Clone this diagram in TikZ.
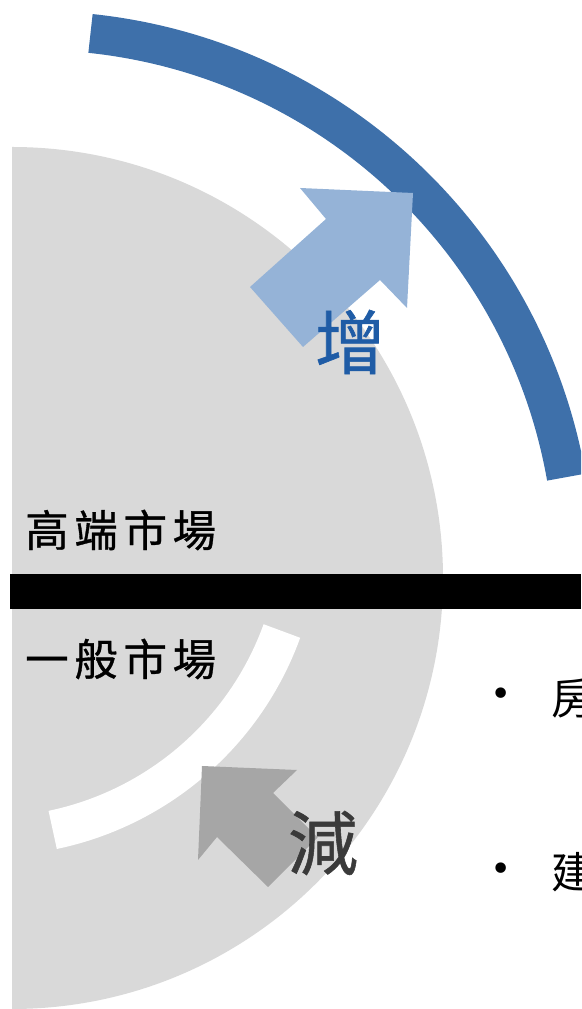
\documentclass[tikz,border=0pt]{standalone}
\usepackage{fontspec}
\newfontfamily\cjk{Noto Sans CJK TC}
\newfontfamily\cjksp[LetterSpace=13,FakeBold=0.8]{Noto Sans CJK TC}
\newfontfamily\cjkb[FakeBold=0.8]{Noto Sans CJK TC}
\newfontfamily\dejavu{DejaVu Sans}
\definecolor{bggray}{HTML}{D9D9D9}
\definecolor{arcblue}{HTML}{3E70AA}
\definecolor{lightblue}{HTML}{95B3D7}
\definecolor{arrowgray}{HTML}{A6A6A6}
\definecolor{incblue}{HTML}{1F5CA6}
\definecolor{decgray}{HTML}{3A3A3A}
\tikzset{
  lbl/.style={inner sep=0pt, font=\cjksp\fontsize{43.5}{43.5}\selectfont, text=black},
  big/.style={inner sep=0pt, font=\cjkb\fontsize{70}{70}\selectfont},
  item/.style={inner sep=0pt, font=\cjk\fontsize{43}{43}\selectfont, text=black, anchor=west},
  bul/.style={inner sep=0pt, font=\dejavu\fontsize{36}{36}\selectfont, text=black},
}
\begin{document}
\begin{tikzpicture}[x=1pt,y=1pt]
\useasboundingbox (0,0) rectangle (581,1009);
\clip (0,0) rectangle (581,1009);
% gray half disc
\fill[bggray] (12,862) arc[start angle=90,end angle=-90,radius=431pt] -- cycle;
% blue arc
\coordinate (bc) at (34,438);
\draw[arcblue, line width=39pt] ([shift={(84:540.5pt)}]bc) arc[start angle=84,end angle=10,radius=540.5pt];
% light blue arrow
\fill[lightblue] (413,816) -- (300,821) -- (326,790) -- (250,722) -- (303,662) -- (380,729) -- (407,701) -- cycle;
% black bar
\fill[black] (10,400) rectangle (581,435);
% white arc
\coordinate (wc) at (-11,484);
\draw[white, line width=39pt] ([shift={(-19.9:311.5pt)}]wc) arc[start angle=-19.9,end angle=-78.2,radius=311.5pt];
% gray arrow
\fill[arrowgray] (202,243) -- (297,239) -- (273,216) -- (317.5,171.5) -- (268,122) -- (217,172) -- (198,149) -- cycle;
% labels
\node[lbl, anchor=west] (high) at (25,479) {高端市場};
\node[lbl, anchor=west] (gen) at (25,350) {一般市場};
\node[big, text=incblue] (inc) at (350,667) {增};
\node[big, text=decgray] (dec) at (323,166) {減};
\node[bul] (b1) at (501,312) {•};
\node[item] (t1) at (551,311) {房};
\node[bul] (b2) at (501,137) {•};
\node[item] (t2) at (551,137) {建};
\end{tikzpicture}
\end{document}
